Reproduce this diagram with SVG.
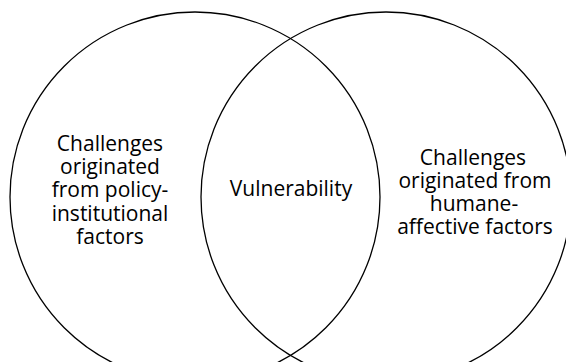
<svg xmlns="http://www.w3.org/2000/svg" width="566" height="362" viewBox="0 0 566 362">
<style>
.c{fill:none;stroke:#000;stroke-width:1.3}
.t{font-family:"Open Sans","Liberation Sans",sans-serif;font-size:21px;fill:#000;text-anchor:middle}
</style>
<rect width="566" height="362" fill="#fff"/>
<g id="left">
<circle class="c" cx="195" cy="197" r="185"/>
<text class="t" x="110" y="151"><tspan x="110">Challenges</tspan><tspan x="110" dy="23.2">originated</tspan><tspan x="110" dy="23.2">from policy-</tspan><tspan x="110" dy="23.2">institutional</tspan><tspan x="110" dy="23.2">factors</tspan></text>
</g>
<g id="right">
<circle class="c" cx="386" cy="197" r="185"/>
<text class="t" x="474" y="165"><tspan x="473">Challenges</tspan><tspan x="475" dy="23">originated from</tspan><tspan x="474" dy="23">humane-</tspan><tspan x="475" dy="23">affective factors</tspan></text>
</g>
<g id="center">
<text class="t" x="291" y="196">Vulnerability</text>
</g>
<g id="connectors"/>
</svg>
